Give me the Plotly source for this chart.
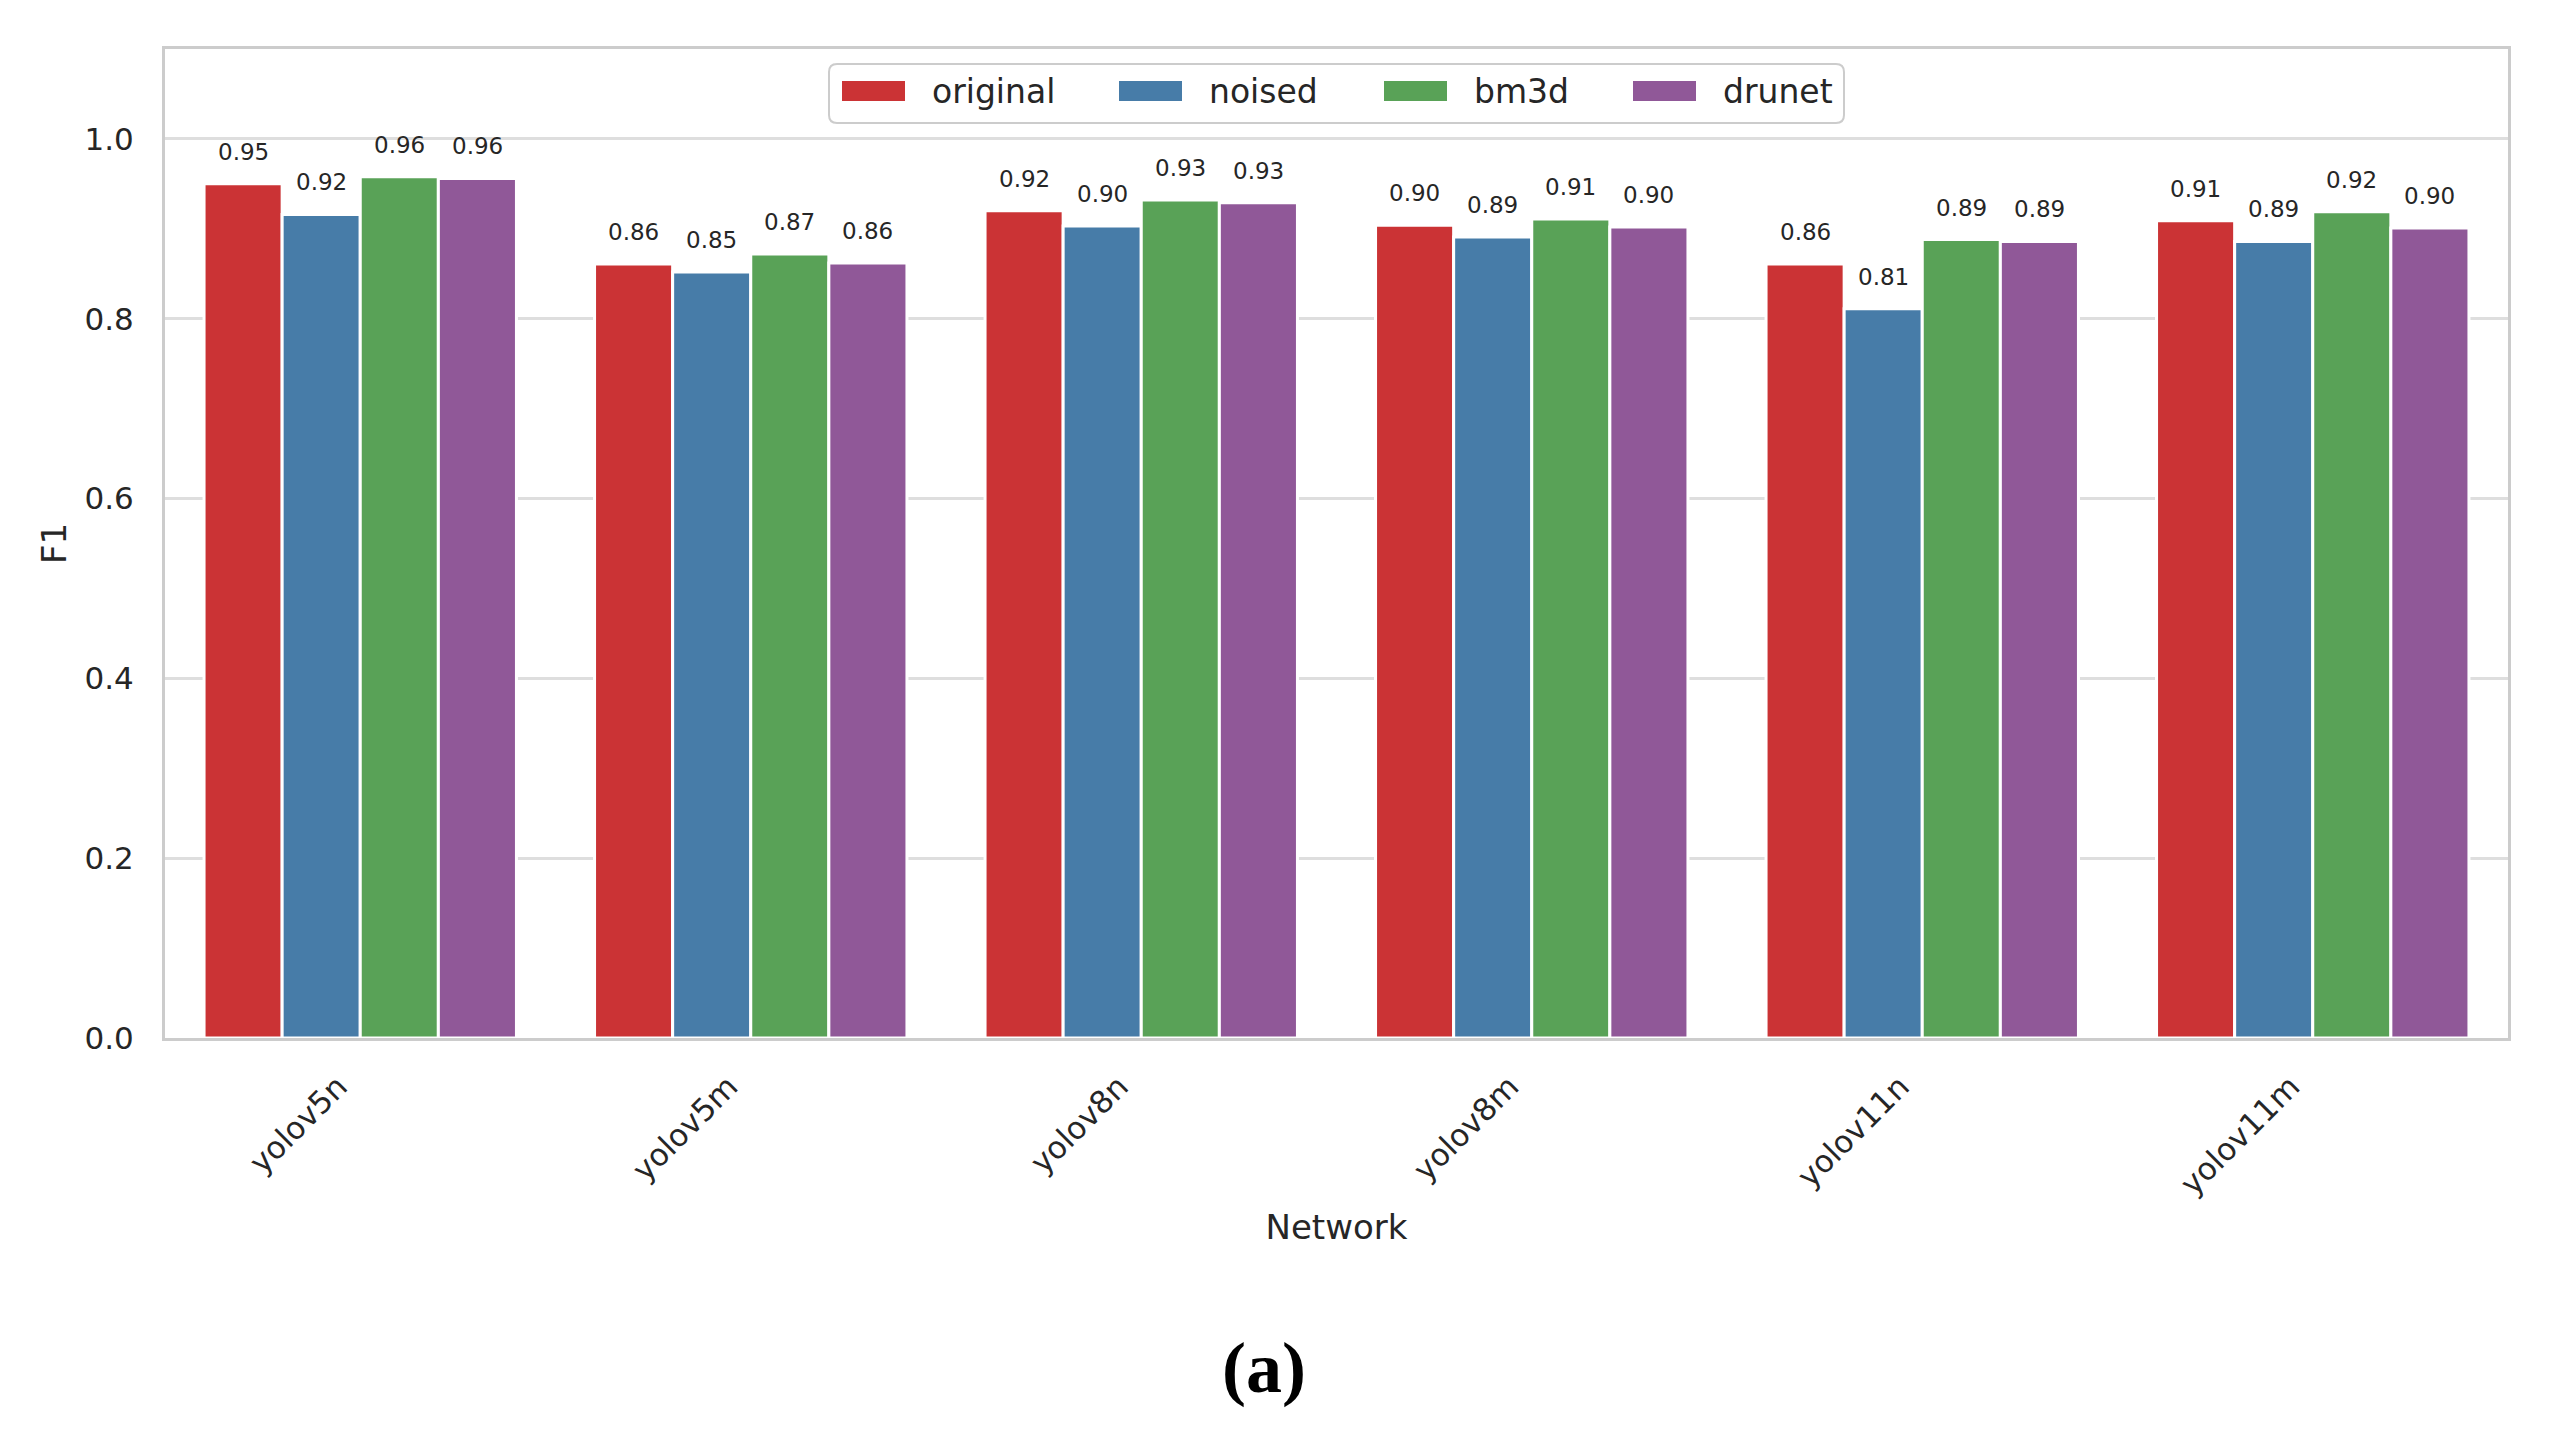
import plotly.graph_objects as go

# ---- data ----
networks = ["yolov5n", "yolov5m", "yolov8n", "yolov8m", "yolov11n", "yolov11m"]
series_names = ["original", "noised", "bm3d", "drunet"]
original = [0.950, 0.861, 0.920, 0.904, 0.861, 0.909]
noised = [0.916, 0.852, 0.903, 0.891, 0.811, 0.886]
bm3d = [0.958, 0.872, 0.932, 0.911, 0.888, 0.919]
drunet = [0.956, 0.862, 0.929, 0.902, 0.886, 0.901]
y_ticks = [0.0, 0.2, 0.4, 0.6, 0.8, 1.0]
x_title = "Network"
y_title = "F1"
caption = "(a)"

colors = ["#cb3335", "#477ca8", "#59a257", "#905898"]
series_values = [original, noised, bm3d, drunet]

# ---- layout geometry (window pixels; page body has an 8px margin) ----
WIN_W, WIN_H = 2549, 1445
OFF = 8
PLOT_L, PLOT_R, PLOT_T, PLOT_B = 165, 2508, 49, 1038
W, H = WIN_W - 2 * OFF, WIN_H - 2 * OFF
ML = PLOT_L - OFF
MT = PLOT_T - OFF
MR = W - (PLOT_R - OFF)
MB = H - (PLOT_B - OFF)


def px(X):
    return (X - PLOT_L) / (PLOT_R - PLOT_L)


def py(Y):
    return (PLOT_B - Y) / (PLOT_B - PLOT_T)


fig = go.Figure()
for name, vals, col in zip(series_names, series_values, colors):
    fig.add_trace(go.Bar(
        x=networks, y=vals, name=name,
        marker=dict(color=col, line=dict(color="white", width=3)),
        hoverinfo="x+y+name", showlegend=False,
    ))

# value labels above bars
n = len(series_names)
bar_w = 0.8 / n
annotations = []
for j, vals in enumerate(series_values):
    off = -0.4 + bar_w * (j + 0.5)
    for i, v in enumerate(vals):
        annotations.append(dict(
            x=i + off, y=v, xref="x", yref="y",
            text=f"{v:.2f}", showarrow=False,
            yanchor="middle", yshift=32,
            font=dict(family="DejaVu Sans", size=23, color="#262626"),
        ))

# caption
annotations.append(dict(
    x=px(1264), y=py(1368),
    xref="paper", yref="paper", text=f"<b>{caption}</b>", showarrow=False,
    xanchor="center", yanchor="middle",
    font=dict(family="Liberation Serif", size=72, color="black"),
))

# legend (matplotlib-style box with wide patches)
shapes = []
LX0, LX1, LY0, LY1, R = 829, 1844, 64, 123, 8
path = (f"M {px(LX0 + R)},{py(LY0)} L {px(LX1 - R)},{py(LY0)} "
        f"Q {px(LX1)},{py(LY0)} {px(LX1)},{py(LY0 + R)} "
        f"L {px(LX1)},{py(LY1 - R)} Q {px(LX1)},{py(LY1)} {px(LX1 - R)},{py(LY1)} "
        f"L {px(LX0 + R)},{py(LY1)} Q {px(LX0)},{py(LY1)} {px(LX0)},{py(LY1 - R)} "
        f"L {px(LX0)},{py(LY0 + R)} Q {px(LX0)},{py(LY0)} {px(LX0 + R)},{py(LY0)} Z")
shapes.append(dict(type="path", path=path, xref="paper", yref="paper",
                   fillcolor="white", line=dict(color="#cccccc", width=2), layer="above"))
entry_x = [842, 1119, 1384, 1633]
for ex, name, col in zip(entry_x, series_names, colors):
    shapes.append(dict(type="rect", xref="paper", yref="paper",
                       x0=px(ex), x1=px(ex + 63), y0=py(101), y1=py(81),
                       fillcolor=col, line=dict(width=0), layer="above"))
    annotations.append(dict(
        x=px(ex + 88), y=py(91), xref="paper", yref="paper",
        text=name, showarrow=False, xanchor="left", yanchor="middle",
        font=dict(family="DejaVu Sans", size=33, color="#262626"),
    ))

fig.update_layout(
    width=W, height=H,
    margin=dict(l=ML, r=MR, t=MT, b=MB, autoexpand=False),
    paper_bgcolor="white", plot_bgcolor="white",
    barmode="group", bargap=0.2, bargroupgap=0,
    font=dict(family="DejaVu Sans", color="#262626"),
    annotations=annotations,
    shapes=shapes,
    showlegend=False,
)

fig.update_xaxes(
    showgrid=False, showline=True, mirror=True, linecolor="#cccccc", linewidth=3,
    tickangle=-45, tickfont=dict(size=31, color="#262626"),
    ticks="", ticklabelstandoff=15, ticklabelshift=-22,
    title=dict(text=x_title, font=dict(size=34, color="#262626"), standoff=15),
    automargin=False,
)
fig.update_yaxes(
    range=[0, 1.1], tickvals=y_ticks, ticktext=[f"{t:.1f}" for t in y_ticks],
    showgrid=True, gridcolor="#dedede", gridwidth=2.5,
    showline=True, mirror=True, linecolor="#cccccc", linewidth=3,
    zeroline=False,
    tickfont=dict(size=31, color="#262626"), ticks="", ticklabelstandoff=22,
    title=dict(text=y_title, font=dict(size=34, color="#262626"), standoff=8),
    automargin=False,
)

fig.write_html("out.html")
